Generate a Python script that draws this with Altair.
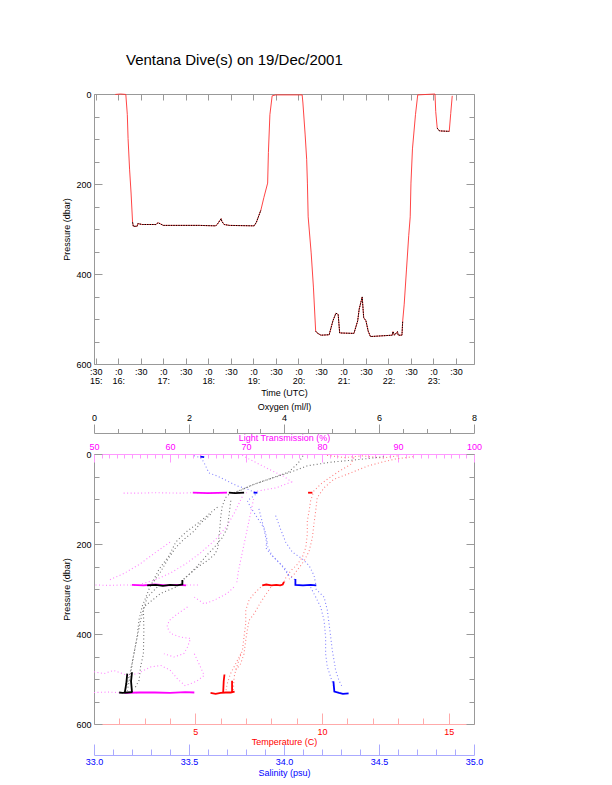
import altair as alt
import pandas as pd

FONT = "Liberation Sans"
GRAY = "#999999"

# ---------------- top panel: ROV pressure record ----------------
DIVE_TIME = ["15:56", "16:03", "16:10", "16:12", "16:13", "16:15", "16:17", "16:19", "16:20", "16:25",
             "16:26", "16:32", "16:50", "16:53", "17:00", "17:48", "18:10", "18:13", "18:17", "18:18",
             "18:21", "18:28", "19:01", "19:04", "19:10", "19:14", "19:19", "19:20", "19:22", "19:25",
             "19:30", "20:05", "20:06", "20:09", "20:11", "20:12", "20:13", "20:17", "20:20", "20:23",
             "20:25", "20:30", "20:41", "20:46", "20:50", "20:53", "20:55", "21:14", "21:19", "21:21",
             "21:25", "21:27", "21:30", "21:33", "21:36", "22:05", "22:06", "22:08", "22:12", "22:13",
             "22:18", "22:19", "22:21", "22:24", "22:27", "22:29", "22:30", "22:32", "22:36", "22:39",
             "23:02", "23:03", "23:05", "23:08", "23:21", "23:23", "23:25"]
DIVE_PRES = [1, 0, 1, 46, 99, 167, 220, 285, 294, 294,
             288, 290, 290, 286, 292, 292, 293, 287, 277, 283,
             290, 292, 293, 285, 258, 230, 198, 130, 46, 4,
             2, 2, 20, 91, 145, 198, 273, 353, 429, 527,
             531, 536, 535, 504, 487, 490, 531, 532, 504, 478,
             451, 497, 504, 527, 539, 536, 528, 536, 528, 536,
             536, 504, 467, 391, 315, 273, 198, 122, 46, 2,
             0, 39, 76, 82, 83, 43, 4]
BOTTOM_START = ["16:19", "20:23", "23:05"]
BOTTOM_END = ["19:10", "22:19", "23:21"]

TIME_DOMAIN = [15.46, 23.90]
TIME_TICKS = [x / 2 for x in range(31, 48)]

PRES_DOMAIN = [0, 600]
PRES_MAJOR = [0, 200, 400, 600]
PRES_MINOR = [50, 100, 150, 250, 300, 350, 450, 500, 550]

# ---------------- bottom panel: profiles (value, pressure) ----------------
OXY_TRACES = {
    "descent_a": [(6.1, 6), (5.6, 12), (5.0, 18), (4.5, 26), (4.2, 38), (3.8, 52), (3.4, 66), (3.1, 80), (2.95, 86)],
    "descent_b": [(4.4, 4), (4.3, 20), (4.1, 40), (3.7, 55), (3.3, 70), (3.0, 84)],
    "profile_c": [(2.84, 90), (2.77, 97), (2.7, 116), (2.67, 138), (2.65, 164), (2.63, 186), (2.61, 208),
                  (2.55, 222), (2.4, 236), (2.2, 250), (2.04, 264), (1.89, 278), (1.86, 286)],
    "profile_d": [(2.88, 104), (2.84, 138), (2.81, 164), (2.7, 186), (2.53, 208), (2.39, 223), (2.21, 245),
                  (2.04, 264), (1.89, 278)],
    "profile_e": [(2.46, 134), (2.25, 153), (2.11, 171), (1.89, 190), (1.72, 208), (1.55, 235), (1.4, 262), (1.25, 285)],
    "profile_f": [(2.6, 118), (2.21, 152), (1.93, 174), (1.72, 196), (1.58, 226), (1.37, 256), (1.16, 300),
                  (1.02, 337), (0.95, 367), (0.91, 404), (0.84, 444), (0.77, 481), (0.7, 510), (0.65, 527)],
    "profile_g": [(1.33, 296), (1.12, 318), (1.04, 347), (1.05, 392), (1.04, 444), (0.98, 473), (0.95, 503), (0.85, 522)],
    "profile_h": [(1.72, 296), (1.4, 310), (1.05, 340), (0.98, 370), (0.91, 407), (0.84, 444), (0.8, 470), (0.75, 500), (0.7, 526)],
}
OXY_CLUSTERS = {
    "b86": [(2.84, 86), (2.97, 87), (3.16, 86)],
    "b290": [(1.12, 292), (1.3, 291), (1.45, 293), (1.6, 291), (1.75, 292), (1.86, 290), (1.86, 280)],
    "b530": [(0.53, 530), (0.6, 531), (0.7, 530), (0.81, 529)],
    "r530a": [(0.65, 529), (0.68, 510), (0.7, 488)],
    "r530b": [(0.8, 529), (0.78, 505), (0.8, 485)],
}

LT_TRACES = {
    "surface": [(69.5, 3), (70.5, 12), (72, 25), (73.5, 38), (75, 50), (76, 62), (74, 75), (71, 84)],
    "level86": [(53.9, 87), (56, 87), (58, 86), (61.4, 87), (63, 86), (65, 87), (67.5, 86), (69, 87), (70.1, 86)],
    "profile_a": [(69.5, 95), (68.5, 130), (67.5, 160), (66, 190), (64, 220), (62, 245), (60, 265), (58, 280), (56, 290)],
    "profile_b": [(71, 100), (70.5, 140), (70, 180), (69.5, 220), (69, 260), (68.8, 285)],
    "profile_c": [(60, 196), (58, 220), (56, 245), (54, 265), (52, 280)],
    "level290": [(50.2, 291), (52, 292), (54, 291), (56, 292), (58, 290), (60, 292), (62, 291), (63.8, 291)],
    "profile_d": [(68.4, 296), (67.5, 310), (65.8, 325), (64.5, 333), (63.2, 318)],
    "profile_e": [(62.3, 340), (61, 355), (59.9, 370), (59.6, 384), (60.1, 399), (61.4, 407), (62.7, 410),
                  (62.3, 429), (61.8, 444), (60.5, 451), (59.2, 444)],
    "profile_f": [(63.2, 444), (64, 473), (64.5, 492), (63.5, 505), (62, 515)],
    "profile_g": [(50, 484), (51.3, 488), (52.6, 481), (54.4, 492), (55.7, 488), (57.5, 473), (58.8, 470),
                  (60, 480), (61, 500), (62, 515)],
    "level530": [(50, 530), (52, 529), (54, 531), (56, 530)],
}
LT_CLUSTERS = {
    "b86": [(63, 86), (65, 87), (67.5, 86)],
    "b290": [(55, 291), (56.5, 292), (58, 290), (59.5, 292), (61, 291), (62.1, 292)],
    "b530": [(54, 531), (56, 530), (58, 530), (60, 531), (62, 529), (63.2, 530)],
}

TEMP_TRACES = {
    "surface": [(10.2, 3), (10.9, 8), (11.6, 4), (12.4, 9), (13.0, 4)],
    "descent_a": [(11.26, 8), (11.13, 23), (10.6, 41), (10.21, 56), (9.95, 67), (9.68, 82), (9.55, 104),
                  (9.49, 127), (9.42, 149), (9.42, 178), (9.36, 208), (9.22, 230), (9.03, 245), (8.76, 260),
                  (8.57, 275), (8.5, 287)],
    "descent_b": [(13.6, 6), (12.9, 11), (12.3, 19), (11.79, 27), (11.0, 45), (10.47, 56), (10.08, 75),
                  (9.81, 97), (9.75, 127), (9.68, 156), (9.62, 186), (9.49, 216), (9.29, 238), (9.09, 253),
                  (8.9, 267), (8.7, 278)],
    "profile_c": [(7.58, 296), (7.32, 310), (7.12, 325), (6.99, 347), (6.99, 377), (6.92, 407), (6.86, 436),
                  (6.72, 458), (6.59, 481), (6.53, 496), (6.5, 525)],
    "profile_d": [(7.98, 296), (7.71, 318), (7.51, 336), (7.32, 355), (7.12, 370), (7.05, 392), (6.99, 414),
                  (6.92, 444), (6.79, 466), (6.6, 480)],
    "profile_e": [(6.79, 444), (6.53, 473), (6.39, 488), (6.26, 510), (6.2, 529)],
}
TEMP_CLUSTERS = {
    "b86": [(9.45, 86), (9.62, 86)],
    "b290": [(7.64, 292), (7.8, 290), (8.0, 292), (8.2, 291), (8.35, 292), (8.45, 290), (8.5, 284)],
    "b530": [(5.6, 531), (5.8, 533), (6.0, 531), (6.2, 530), (6.4, 530), (6.55, 528)],
    "r530a": [(6.1, 529), (6.12, 505), (6.15, 490)],
    "r530b": [(6.45, 529), (6.45, 504)],
}

SAL_TRACES = {
    "descent_a": [(33.526, 4), (33.562, 8), (33.579, 19), (33.596, 34), (33.605, 42), (33.649, 49),
                  (33.702, 60), (33.754, 71), (33.807, 78), (33.85, 86)],
    "profile_b": [(33.85, 90), (33.807, 104), (33.825, 119), (33.86, 142), (33.877, 153), (33.895, 164),
                  (33.904, 178), (33.912, 193), (33.904, 208), (33.93, 223), (33.947, 230), (33.965, 238),
                  (33.982, 245), (34.026, 270), (34.06, 280)],
    "profile_c": [(33.868, 122), (33.895, 167), (33.912, 204), (33.938, 226), (33.974, 241), (34.009, 256), (34.026, 270)],
    "profile_d": [(33.956, 137), (33.982, 167), (34.009, 196), (34.044, 218), (34.096, 233), (34.132, 248),
                  (34.158, 270), (34.167, 289)],
    "profile_e": [(34.14, 296), (34.167, 318), (34.193, 340), (34.211, 370), (34.219, 407), (34.219, 444),
                  (34.228, 473), (34.246, 496), (34.263, 518)],
    "profile_f": [(34.167, 300), (34.211, 318), (34.228, 347), (34.237, 377), (34.246, 407), (34.254, 436),
                  (34.263, 458), (34.272, 481), (34.289, 503), (34.307, 518)],
}
SAL_CLUSTERS = {
    "s0": [(33.56, 6), (33.58, 7)],
    "b86": [(33.84, 86), (33.86, 86)],
    "b290": [(34.06, 278), (34.06, 291), (34.1, 292), (34.14, 291), (34.17, 292)],
    "b530": [(34.26, 505), (34.265, 528), (34.29, 531), (34.31, 533), (34.34, 532)],
}

OXY_DOMAIN, OXY_MAJOR = [0, 8], [0, 2, 4, 6, 8]
OXY_MINOR = [0.5, 1.0, 1.5, 2.5, 3.0, 3.5, 4.5, 5.0, 5.5, 6.5, 7.0, 7.5]
LT_DOMAIN, LT_MAJOR = [50, 100], [50, 60, 70, 80, 90, 100]
LT_MINOR = [v for v in range(51, 100) if v % 10]
TEMP_DOMAIN, TEMP_MAJOR = [1, 16], [5, 10, 15]
TEMP_MINOR = [2, 3, 4, 6, 7, 8, 9, 11, 12, 13, 14]
SAL_DOMAIN, SAL_MAJOR = [33, 35], [33.0, 33.5, 34.0, 34.5, 35.0]
SAL_MINOR = [33.1, 33.2, 33.3, 33.4, 33.6, 33.7, 33.8, 33.9, 34.1, 34.2, 34.3, 34.4, 34.6, 34.7, 34.8, 34.9]


# ---------------- helpers ----------------
def hhmm(s):
    h, m = s.split(":")
    return int(h) + int(m) / 60.0


def build(groups):
    rows = []
    for name, pts in groups.items():
        for i, (v, p) in enumerate(pts):
            rows.append({"val": v, "p": p, "trace": name, "order": i})
    return pd.DataFrame(rows)


def axis(orient, values, tick, **kw):
    opts = dict(orient=orient, values=values, tickSize={"expr": str(tick)}, grid=False,
                labelFlush=False, labelOverlap=False)
    opts.update(kw)
    if not opts.get("labels", True):
        opts.setdefault("title", None)
    return alt.Axis(**opts)


PRES_SCALE = alt.Scale(domain=PRES_DOMAIN, reverse=True, nice=False, zero=False)


def left_major():
    return axis("left", PRES_MAJOR, -8, domain=False, labelPadding=11, labelBaseline="middle",
                labelFlush=True, labelFlushOffset=2,
                title="Pressure (dbar)", titleX=-27.5, titleBaseline="middle")


def left_minor():
    return axis("left", PRES_MINOR, -5, domain=False, labels=False)


def right_major():
    return axis("right", PRES_MAJOR, -8, domain=False, labels=False)


def right_minor():
    return axis("right", PRES_MINOR, -5, domain=False, labels=False)


# ---------------- top panel ----------------
top_df = pd.DataFrame({"time": [hhmm(t) for t in DIVE_TIME], "pressure": DIVE_PRES})
windows = list(zip([hhmm(t) for t in BOTTOM_START], [hhmm(t) for t in BOTTOM_END]))


def phase_of(t):
    for i, (a, b) in enumerate(windows):
        if a <= t <= b:
            return i
    return -1


top_df["phase"] = top_df["time"].map(phase_of)

TIME_SCALE = alt.Scale(domain=TIME_DOMAIN, nice=False, zero=False)
first = TIME_TICKS[0]
time_label_expr = (
    "datum.value % 1 == 0 ? [':0', format(datum.value, 'd') + ':'] : "
    f"(datum.value == {first} ? [':30', format(floor(datum.value), 'd') + ':'] : [':30', ''])"
)
time_bottom = axis("bottom", TIME_TICKS, -6, domain=False, labelPadding=9, labelExpr=time_label_expr,
                   labelBaseline="top", labelLineHeight=9.5, title="Time (UTC)", titleY=28,
                   titleBaseline="middle")
time_top = axis("top", TIME_TICKS, -6, domain=False, labels=False)


def xt(ax):
    return alt.X("time:Q", scale=TIME_SCALE, axis=ax)


def yt(ax):
    return alt.Y("pressure:Q", scale=PRES_SCALE, axis=ax)


red_line = alt.Chart(top_df).mark_line(color="#ff3030", strokeWidth=0.9).encode(
    x=xt(time_bottom), y=yt(left_major()))
black_line = alt.Chart(top_df).transform_filter("datum.phase >= 0").mark_line(
    color="#000000", strokeWidth=1, strokeDash=[1.5, 1]).encode(
    x=xt(time_top), y=yt(left_minor()), detail="phase:N")
ghost1 = alt.Chart(top_df).mark_point(opacity=0).encode(x=xt(None), y=yt(right_major()))
ghost2 = alt.Chart(top_df).mark_point(opacity=0).encode(x=xt(None), y=yt(right_minor()))

top = alt.layer(red_line, black_line, ghost1, ghost2).resolve_axis(
    x="independent", y="independent").properties(
    width=380, height=270,
    title=alt.TitleParams(text="Ventana Dive(s) on 19/Dec/2001", anchor="start", frame="group",
                          dx=32, offset=22, fontSize=15, fontWeight="normal", font=FONT, color="black"))


# ---------------- bottom panel ----------------
def series(traces, clusters, domain, tcolor, ccolor, xa_major, xa_minor, ya_t=None, ya_c=None):
    sc = alt.Scale(domain=domain, nice=False, zero=False)
    t = alt.Chart(build(traces)).mark_line(color=tcolor, strokeWidth=1.1, strokeDash=[1, 2.5]).encode(
        x=alt.X("val:Q", scale=sc, axis=xa_major),
        y=alt.Y("p:Q", scale=PRES_SCALE, axis=ya_t),
        detail="trace:N", order="order:Q")
    c = alt.Chart(build(clusters)).mark_line(color=ccolor, strokeWidth=1.8).encode(
        x=alt.X("val:Q", scale=sc, axis=xa_minor),
        y=alt.Y("p:Q", scale=PRES_SCALE, axis=ya_c),
        detail="trace:N", order="order:Q")
    return alt.layer(t, c).resolve_axis(x="independent", y="independent")


MAG, MAG_L = "#ff00ff", "#ff99ff"
RED, RED_L = "#ff0000", "#ffaaaa"
BLUE, BLUE_L = "#0000ff", "#aaaaff"

lt_layer = series(
    LT_TRACES, LT_CLUSTERS, LT_DOMAIN, "#ff80ff", MAG,
    axis("top", LT_MAJOR, -8, domain=True, domainColor=MAG_L, tickColor=MAG_L, labelColor=MAG,
         labelPadding=11, title="Light Transmission (%)", titleColor=MAG, titleY=-16.5, titleBaseline="middle"),
    axis("top", LT_MINOR, -4, domain=False, tickColor=MAG_L, labels=False),
    right_major(), right_minor())

temp_layer = series(
    TEMP_TRACES, TEMP_CLUSTERS, TEMP_DOMAIN, "#ff8080", RED,
    axis("bottom", TEMP_MAJOR, -11, domain=True, domainColor=RED_L, tickColor=RED_L, labelColor=RED,
         labelPadding=14, labelBaseline="top", title="Temperature (C)", titleColor=RED, titleY=17,
         titleBaseline="middle"),
    axis("bottom", TEMP_MINOR, -6, domain=False, tickColor=RED_L, labels=False))

sal_layer = series(
    SAL_TRACES, SAL_CLUSTERS, SAL_DOMAIN, "#8080ff", BLUE,
    axis("bottom", SAL_MAJOR, -11, offset=31, domain=True, domainColor=BLUE_L, tickColor=BLUE_L,
         labelColor=BLUE, labelPadding=13.5, labelBaseline="top", format=".1f", title="Salinity (psu)",
         titleColor=BLUE, titleY=17, titleBaseline="middle"),
    axis("bottom", SAL_MINOR, -6, offset=31, domain=False, tickColor=BLUE_L, labels=False))

oxy_layer = series(
    OXY_TRACES, OXY_CLUSTERS, OXY_DOMAIN, "#707070", "#000000",
    axis("top", OXY_MAJOR, 9, offset=21, domain=True, labelPadding=2, title="Oxygen (ml/l)",
         titleY=-27, titleBaseline="middle"),
    axis("top", OXY_MINOR, 4.5, offset=21, domain=False, labels=False),
    left_major(), left_minor())

bottom = alt.layer(lt_layer, temp_layer, sal_layer, oxy_layer).resolve_scale(
    x="independent").resolve_axis(x="independent", y="independent").properties(width=380, height=270)

chart = alt.vconcat(top, bottom, spacing=90, bounds="flush").properties(
    padding={"left": 54, "top": 44, "right": 10, "bottom": 10}
).configure_view(stroke=GRAY, strokeWidth=1).configure_axis(
    labelFont=FONT, titleFont=FONT, labelFontSize=9, titleFontSize=9, titleFontWeight="normal",
    tickColor=GRAY, domainColor=GRAY, labelColor="black", titleColor="black", tickWidth=1, domainWidth=1)

chart.save("out.html", embed_options={"renderer": "svg", "actions": False})
